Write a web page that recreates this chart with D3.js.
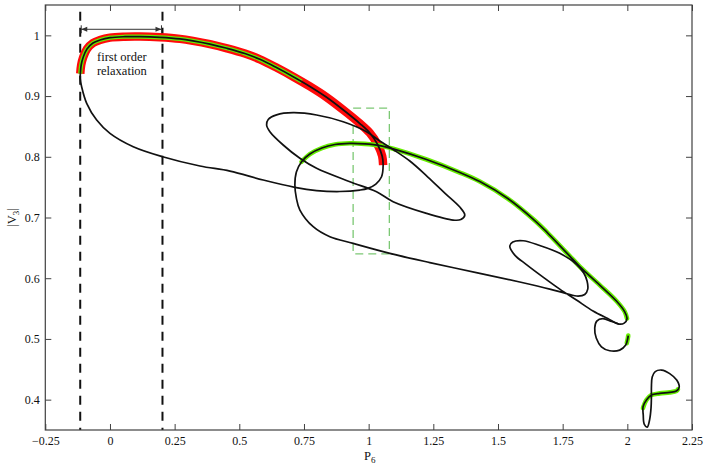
<!DOCTYPE html>
<html><head><meta charset="utf-8">
<script src="https://cdn.jsdelivr.net/npm/d3@7"></script>
<style>
body{margin:0;background:#fff}
svg{display:block}
text{font-family:"Liberation Serif","Times New Roman",serif;fill:#111}
</style>
</head><body>
<svg id="c" width="709" height="468"></svg>
<script>
// ---------- data ----------
const xDomain = [-0.25, 2.25];
const yDomain = [0.35, 1.05];
const xTicks = [-0.25, 0, 0.25, 0.5, 0.75, 1, 1.25, 1.5, 1.75, 2, 2.25];
const xTickLabels = ["\u22120.25","0","0.25","0.5","0.75","1","1.25","1.5","1.75","2","2.25"];
const yTicks = [0.4, 0.5, 0.6, 0.7, 0.8, 0.9, 1];
const yTickLabels = ["0.4","0.5","0.6","0.7","0.8","0.9","1"];
const relaxBounds = [-0.115, 0.203];
const relaxArrowY = 1.01;
const relaxLineTop = 1.039;
const relaxText = ["first order", "relaxation"];
const relaxTextPos = [[0.046, 0.957], [0.046, 0.934]];
const zoomBoxX = [0.94, 1.08];
const zoomBoxY = [0.64, 0.88];

// upper branch of main left loop (shared by the bands)
const upperBranch = [
 [-0.1148,0.937],[-0.1113,0.9512],[-0.1032,0.9643],[-0.0889,0.9775],[-0.0657,0.9874],[-0.0386,0.9923],
 [0.0,0.9962],[0.058,0.9978],[0.1159,0.9980],[0.1932,0.9968],[0.2705,0.9942],[0.3207,0.9910],[0.3864,0.9856],
 [0.4521,0.9787],[0.5216,0.9701],[0.5796,0.9605],[0.6453,0.9465],[0.7083,0.9319],[0.7728,0.9159],[0.8373,0.8981],
 [0.9146,0.8729],[0.966,0.8548],[1.0047,0.8391],[1.0356,0.8194],[1.0522,0.8012],[1.056,0.7864]
];
// lower branch of main left loop (from the turning point back to the nose)
const lowerBranch = [
 [1.0499,0.7671],[1.0278,0.7551],[0.9969,0.748],[0.966,0.7452],[0.8887,0.7428],[0.7987,0.7444],[0.7148,0.7497],
 [0.5924,0.7617],[0.4637,0.7765],[0.3478,0.7848],[0.2036,0.8001],[0.09,0.8166],[0.0,0.8386],[-0.0514,0.8605],
 [-0.09,0.8881],[-0.1093,0.9149],[-0.1155,0.9297]
];
const redEndIndex = 25;        // red band: upper branch points 0..25
const greenInnerEnd = [0.7407,0.924];
const greenInnerCount = 18;    // green inside red: first 18 points + end point

// tilted loop (closed)
const loopB = [
 [0.6055,0.8523],[0.6117,0.8614],[0.6441,0.8691],[0.7083,0.8726],[0.7987,0.8688],[0.9015,0.8577],[0.9919,0.8413],
 [1.0433,0.826],[1.0947,0.812],[1.1592,0.793],[1.2288,0.7667],[1.2944,0.7403],[1.3524,0.7172],[1.3717,0.704],
 [1.3563,0.6966],[1.3265,0.6958],[1.2237,0.7068],[1.0947,0.726],[1.0305,0.7424],[0.9274,0.7589],[0.7987,0.781],
 [0.7342,0.7975],[0.6696,0.8194],[0.6182,0.8413]
];
// green upper branch of second loop
const greenUpper = [
 [0.7407,0.7919],[0.7728,0.8045],[0.8192,0.8144],[0.8694,0.8202],[0.9274,0.8222],[0.9853,0.8213],[1.0433,0.8185],
 [1.0947,0.8131],[1.2237,0.7955],[1.3524,0.7741],[1.4297,0.7592],[1.5379,0.7312],[1.6422,0.695],[1.6924,0.6744],
 [1.7388,0.6538],[1.7774,0.6365],[1.8161,0.6192],[1.8934,0.5887],[1.9579,0.5624],[1.99,0.5447],[1.9988,0.5335]
];
// second loop: remainder (closes greenUpper)
const loopCDrest = [
 [1.988,0.5261],[1.9668,0.5245],[1.9243,0.5335],[1.8675,0.5459],[1.8033,0.564],[1.7388,0.5821],[1.6743,0.6019],
 [1.6101,0.6225],[1.5649,0.6381],[1.5456,0.653],[1.5572,0.6596],[1.597,0.6617],[1.6615,0.6538],[1.7388,0.641],
 [1.8045,0.6225],[1.8315,0.6085],[1.8443,0.5953],[1.847,0.5821],[1.8354,0.5731],[1.8095,0.5706],[1.7647,0.5747],
 [1.7002,0.5821],[1.5842,0.5937],[1.4297,0.608],[1.2365,0.6258],[1.0819,0.641],[0.9401,0.6574],[0.8501,0.6683],
 [0.7856,0.6848],[0.7342,0.7123],[0.7206,0.732],[0.7148,0.7535],[0.7206,0.7749]
];
// small loop near P6 = 1.9
const loopE = [
 [1.9668,0.5245],[1.9397,0.5286],[1.905,0.5335],[1.8818,0.5294],[1.874,0.5179],[1.8798,0.5014],[1.8999,0.4871],
 [1.932,0.4805],[1.9706,0.4816],[1.9938,0.4899],[2.0016,0.5006],[2.0035,0.5055]
];
const greenE = [[1.998,0.4932],[2.0016,0.5006],[2.0035,0.5055]];
// isolated piece near P6 = 2.1 (closed)
const loopF = [
 [2.0607,0.3882],[2.0738,0.3993],[2.0931,0.4075],[2.1252,0.4103],[2.1638,0.412],[2.1897,0.4141],[2.2006,0.4207],
 [2.1909,0.4322],[2.1638,0.4429],[2.1329,0.4487],[2.1078,0.4462],[2.0962,0.4372],[2.0931,0.4207],[2.0931,0.4042],
 [2.0916,0.3861],[2.0866,0.368],[2.0769,0.3548],[2.0653,0.3597],[2.0615,0.3746]
];
const greenF = [[2.0605,0.386],[2.0738,0.3993],[2.0931,0.4075],[2.1252,0.4103],[2.1638,0.412],[2.1897,0.4141],[2.1955,0.4168]];

// ---------- chart ----------
const W = 709, H = 468;
const m = {l:45.3, r:17, t:5, b:38};
const svg = d3.select("#c");
const x = d3.scaleLinear().domain(xDomain).range([m.l, W - m.r]);
const y = d3.scaleLinear().domain(yDomain).range([H - m.b, m.t]);

const open = d3.line().x(d=>x(d[0])).y(d=>y(d[1])).curve(d3.curveCatmullRom.alpha(0.5));
const closed = d3.line().x(d=>x(d[0])).y(d=>y(d[1])).curve(d3.curveCatmullRomClosed.alpha(0.5));
const loopA = upperBranch.slice(1).concat(lowerBranch);
const loopA0 = [[-0.1148,0.9347]].concat(loopA);
const redBand = upperBranch.slice(0, redEndIndex + 1);
const greenInner = upperBranch.slice(0, greenInnerCount).concat([greenInnerEnd]);
const loopCD = greenUpper.concat(loopCDrest);

// relaxation bounds (dashed verticals)
svg.selectAll(".vbound").data(relaxBounds).join("line")
  .attr("x1", d=>x(d)).attr("x2", d=>x(d))
  .attr("y1", y(relaxLineTop)).attr("y2", y(yDomain[0]))
  .attr("stroke","#111").attr("stroke-width",2).attr("stroke-dasharray","9,7");

// zoom box
svg.append("rect")
  .attr("x", x(zoomBoxX[0])).attr("y", y(zoomBoxY[1]))
  .attr("width", x(zoomBoxX[1]) - x(zoomBoxX[0]))
  .attr("height", y(zoomBoxY[0]) - y(zoomBoxY[1]))
  .attr("fill","none").attr("stroke","#7cc874").attr("stroke-width",1.3).attr("stroke-dasharray","8,5");

// bands
svg.append("path").attr("d", open(redBand)).attr("fill","none").attr("stroke","#ff0a0a").attr("stroke-width",8.5);
svg.append("path").attr("d", open(greenInner)).attr("fill","none").attr("stroke","#66e800").attr("stroke-width",4.2);
[greenUpper, greenE, greenF].forEach(g=>{
  svg.append("path").attr("d", open(g)).attr("fill","none").attr("stroke","#66ee00").attr("stroke-width",4.6)
    .attr("stroke-linecap","round");
});

// black curves
function blk(p){ return p.attr("fill","none").attr("stroke","#111").attr("stroke-width",1.7).attr("stroke-linejoin","round"); }
blk(svg.append("path").attr("d", closed(loopA0)));
blk(svg.append("path").attr("d", closed(loopB)));
blk(svg.append("path").attr("d", closed(loopCD)));
blk(svg.append("path").attr("d", open(loopE)));
blk(svg.append("path").attr("d", closed(loopF)));

// arrow
const ax0 = x(relaxBounds[0]), ax1 = x(relaxBounds[1]), ay = y(relaxArrowY);
const ag = svg.append("g").attr("stroke","#333").attr("fill","#333");
ag.append("line").attr("x1",ax0+1).attr("x2",ax1-1).attr("y1",ay).attr("y2",ay).attr("stroke-width",1);
ag.append("line").attr("x1",ax0+1).attr("x2",ax0+1).attr("y1",ay-4).attr("y2",ay+4).attr("stroke-width",1);
ag.append("line").attr("x1",ax1-1).attr("x2",ax1-1).attr("y1",ay-4).attr("y2",ay+4).attr("stroke-width",1);
ag.append("path").attr("d",`M${ax0+1},${ay}L${ax0+7},${ay-2.5}L${ax0+7},${ay+2.5}Z`).attr("stroke","none");
ag.append("path").attr("d",`M${ax1-1},${ay}L${ax1-7},${ay-2.5}L${ax1-7},${ay+2.5}Z`).attr("stroke","none");

svg.selectAll(".rtxt").data(relaxText).join("text")
  .attr("x",(d,i)=>x(relaxTextPos[i][0])).attr("y",(d,i)=>y(relaxTextPos[i][1]))
  .attr("text-anchor","middle").attr("font-size",12.5).text(d=>d);

// axes
const axColor = "#404040";
function styleAxis(g){
  g.select(".domain").remove();
  g.selectAll(".tick line").attr("stroke",axColor);
  g.selectAll(".tick text").attr("font-family","'Liberation Serif','Times New Roman',serif").attr("font-size",12).attr("fill","#111");
}
svg.append("g").attr("transform",`translate(0,${H-m.b})`)
  .call(d3.axisBottom(x).tickValues(xTicks).tickFormat((d,i)=>xTickLabels[i]).tickSizeInner(-6).tickSizeOuter(0).tickPadding(6.5))
  .call(styleAxis);
svg.append("g").attr("transform",`translate(0,${m.t})`)
  .call(d3.axisTop(x).tickValues(xTicks).tickFormat("").tickSizeInner(-6).tickSizeOuter(0))
  .call(styleAxis);
svg.append("g").attr("transform",`translate(${m.l},0)`)
  .call(d3.axisLeft(y).tickValues(yTicks).tickFormat((d,i)=>yTickLabels[i]).tickSizeInner(-6).tickSizeOuter(0).tickPadding(5.5))
  .call(styleAxis);
svg.append("g").attr("transform",`translate(${W-m.r},0)`)
  .call(d3.axisRight(y).tickValues(yTicks).tickFormat("").tickSizeInner(-6).tickSizeOuter(0))
  .call(styleAxis);

svg.append("rect").attr("x",m.l).attr("y",m.t).attr("width",W-m.l-m.r).attr("height",H-m.t-m.b)
  .attr("fill","none").attr("stroke",axColor).attr("stroke-width",1.2);

// axis titles
const xl = svg.append("text").attr("x",(m.l + W - m.r)/2 + 1).attr("y",460).attr("text-anchor","middle").attr("font-size",12.5);
xl.append("tspan").text("P");
xl.append("tspan").attr("font-size",9).attr("dy",3).text("6");

const yl = svg.append("text").attr("transform",`translate(16,${(m.t + H - m.b)/2})) rotate(-90)`.replace("))",")"))
  .attr("text-anchor","middle").attr("font-size",12.5);
yl.append("tspan").text("|V");
yl.append("tspan").attr("font-size",9).attr("dy",3).text("3");
yl.append("tspan").attr("dy",-3).text("|");
</script>
</body></html>
